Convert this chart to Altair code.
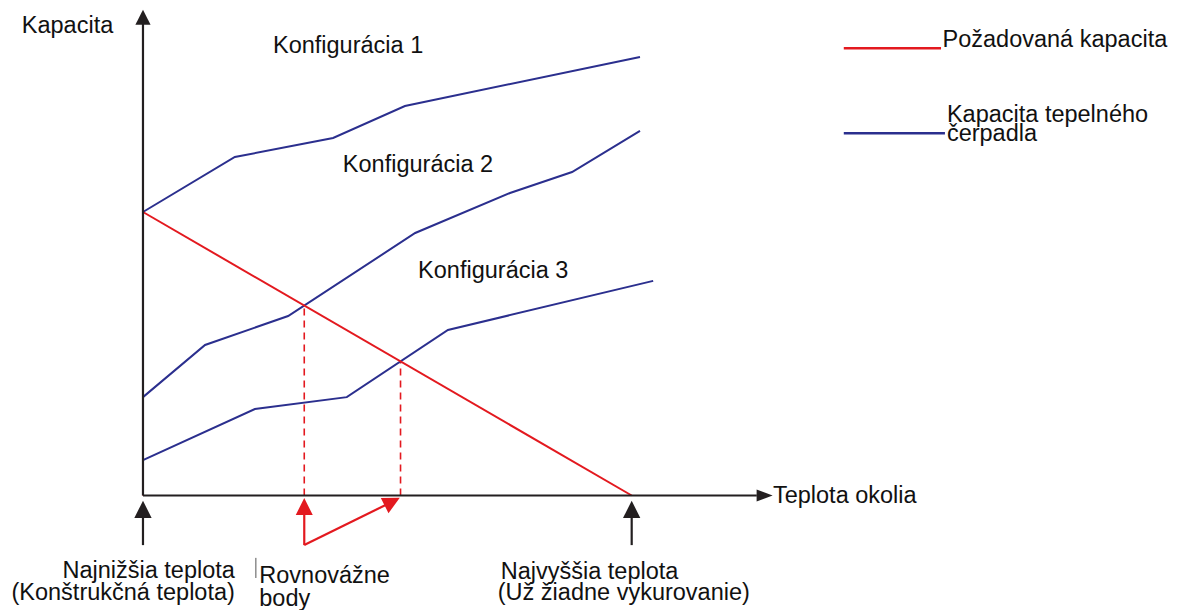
import altair as alt
import pandas as pd

# Schematic units: t = outdoor temperature (0 = design temp, 100 = no heating needed)
#                  c = capacity (100 = required capacity at design temp)
FONT = "Liberation Sans"
RED = "#e3191f"
BLUE = "#2b2f8e"
BLACK = "#231f20"

# heat pump capacity curves
cfg1_t = [0, 18.8, 38.9, 53.6, 101.7]
cfg1_c = [100, 119.4, 126.1, 137.4, 154.7]
cfg2_t = [0, 12.7, 29.7, 55.7, 75.1, 87.8, 101.7]
cfg2_c = [34.7, 53.1, 63.3, 92.6, 106.7, 114.1, 128.6]
cfg3_t = [0, 22.9, 41.7, 62.4, 104.4]
cfg3_c = [12.5, 30.5, 34.7, 58.4, 75.7]

# required capacity (straight line)
req_t = [0, 100]
req_c = [100, 0]

# balance points (t where required line meets config 2 and 3)
bal_t = [0, 33.0, 52.7]
bal_c = [100, 67.0, 47.3]

# axis extents
yaxis_top = 167.0
xaxis_end = 125.6
yhead = (0, 168.7)
xhead = (127.2, 0)

# marker arrows under the x axis
arrow_low = -17.5
black_arrow_t = [0, 100]
black_head_c = -4.9
red_v_t = [33.0, 51.0]
red_v_head_c = [-3.9, -2.2]
red_v_angle = [0, 63]

# legend
leg_t = [143.4, 163.3]
leg_req_c = 157.8
leg_hp_t = [143.4, 164.1]
leg_hp_c = 127.8

xs = alt.Scale(domain=[-27.62, 210.15], nice=False, zero=False)
ys = alt.Scale(domain=[-40.39, 171.96], nice=False, zero=False)
X = lambda f: alt.X(f, type="quantitative", scale=xs, axis=None)
Y = lambda f: alt.Y(f, type="quantitative", scale=ys, axis=None)

curves = pd.DataFrame(
    [{"s": "Konfigurácia 1", "t": t, "c": c} for t, c in zip(cfg1_t, cfg1_c)]
    + [{"s": "Konfigurácia 2", "t": t, "c": c} for t, c in zip(cfg2_t, cfg2_c)]
    + [{"s": "Konfigurácia 3", "t": t, "c": c} for t, c in zip(cfg3_t, cfg3_c)]
)
blue_lines = alt.Chart(curves).mark_line(color=BLUE, strokeWidth=2).encode(
    x=X("t"), y=Y("c"), detail="s:N"
)

req = pd.DataFrame({"t": req_t, "c": req_c})
red_line = alt.Chart(req).mark_line(color=RED, strokeWidth=2).encode(x=X("t"), y=Y("c"))

dashes = pd.DataFrame({"t": bal_t, "c0": [0] * 3, "c1": bal_c})
dash_rules = alt.Chart(dashes).mark_rule(color=RED, strokeWidth=1.6, strokeDash=[7, 5]).encode(
    x=X("t"), y=Y("c0"), y2="c1"
)

axes = pd.DataFrame({"t0": [0, 0], "t1": [0, xaxis_end], "c0": [0, 0], "c1": [yaxis_top, 0]})
axis_rules = alt.Chart(axes).mark_rule(color=BLACK, strokeWidth=2.2).encode(
    x=X("t0"), x2="t1", y=Y("c0"), y2="c1"
)

UP = "M0,-1L1,1L-1,1Z"
RIGHT = "M1,0L-1,0.75L-1,-0.75Z"
heads_black = pd.DataFrame({
    "t": [yhead[0]] + black_arrow_t,
    "c": [yhead[1]] + [black_head_c] * 2,
    "sz": [230, 300, 300],
})
black_heads = alt.Chart(heads_black).mark_point(shape=UP, filled=True, color=BLACK, opacity=1, strokeWidth=0).encode(
    x=X("t"), y=Y("c"), size=alt.Size("sz:Q", scale=None)
)
xhead_df = pd.DataFrame({"t": [xhead[0]], "c": [xhead[1]]})
x_head = alt.Chart(xhead_df).mark_point(shape=RIGHT, filled=True, color=BLACK, opacity=1, strokeWidth=0, size=256).encode(
    x=X("t"), y=Y("c")
)

bshafts = pd.DataFrame({"t": black_arrow_t, "c0": [arrow_low] * 2, "c1": [black_head_c] * 2})
black_shafts = alt.Chart(bshafts).mark_rule(color=BLACK, strokeWidth=2.2).encode(
    x=X("t"), y=Y("c0"), y2="c1"
)

rv = pd.DataFrame({"t0": [33.0, 33.0], "c0": [arrow_low] * 2, "t1": red_v_t, "c1": red_v_head_c})
red_shafts = alt.Chart(rv).mark_rule(color=RED, strokeWidth=2.2).encode(
    x=X("t0"), x2="t1", y=Y("c0"), y2="c1"
)
rh = pd.DataFrame({"t": red_v_t, "c": red_v_head_c, "a": red_v_angle})
red_heads = alt.Chart(rh).mark_point(shape=UP, filled=True, color=RED, opacity=1, strokeWidth=0, size=289).encode(
    x=X("t"), y=Y("c"), angle=alt.Angle("a:Q", scale=None)
)

legend_lines = pd.DataFrame({
    "t0": [leg_t[0], leg_hp_t[0]], "t1": [leg_t[1], leg_hp_t[1]],
    "c": [leg_req_c, leg_hp_c], "col": [RED, BLUE],
})
leg = alt.Chart(legend_lines).mark_rule(strokeWidth=2.5).encode(
    x=X("t0"), x2="t1", y=Y("c"), color=alt.Color("col:N", scale=None)
)

# artifact tick next to "Rovnovážne"
tick = pd.DataFrame({"t": [23.1], "c0": [-22.0], "c1": [-29.1]})
tick_rule = alt.Chart(tick).mark_rule(color="#555555", strokeWidth=1).encode(x=X("t"), y=Y("c0"), y2="c1")

left_labels = ["Kapacita", "Konfigurácia 1", "Konfigurácia 2", "Konfigurácia 3",
               "Požadovaná kapacita", "Kapacita tepelného", "čerpadla", "Teplota okolia",
               "Rovnovážne", "body", "Najvyššia teplota", "(Už žiadne vykurovanie)"]
left_t = [-24.8, 26.6, 40.9, 56.3, 163.6, 164.5, 164.5, 128.9, 23.8, 23.8, 73.2, 72.6]
left_c = [163.0, 156.1, 114.2, 76.7, 158.3, 131.9, 125.1, -2.65, -31.0, -39.0, -29.45, -36.9]

right_labels = ["Najnižšia teplota", "(Konštrukčná teplota)"]
right_t = [18.8, 18.8]
right_c = [-29.2, -36.9]

lt = pd.DataFrame({"label": left_labels, "t": left_t, "c": left_c})
rt = pd.DataFrame({"label": right_labels, "t": right_t, "c": right_c})
text_left = alt.Chart(lt).mark_text(align="left", baseline="alphabetic", font=FONT, fontSize=23.5, color="#111111").encode(
    x=X("t"), y=Y("c"), text="label:N"
)
text_right = alt.Chart(rt).mark_text(align="right", baseline="alphabetic", font=FONT, fontSize=23.5, color="#111111").encode(
    x=X("t"), y=Y("c"), text="label:N"
)

chart = alt.layer(
    dash_rules, blue_lines, red_line, axis_rules, black_shafts, black_heads, x_head,
    red_shafts, red_heads, leg, tick_rule, text_left, text_right
).properties(
    width=1162, height=602, padding=0, autosize=alt.AutoSizeParams(type="none"), background="white"
).configure_view(stroke=None)

chart.save("out.html", embed_options={"renderer": "svg", "actions": False})
